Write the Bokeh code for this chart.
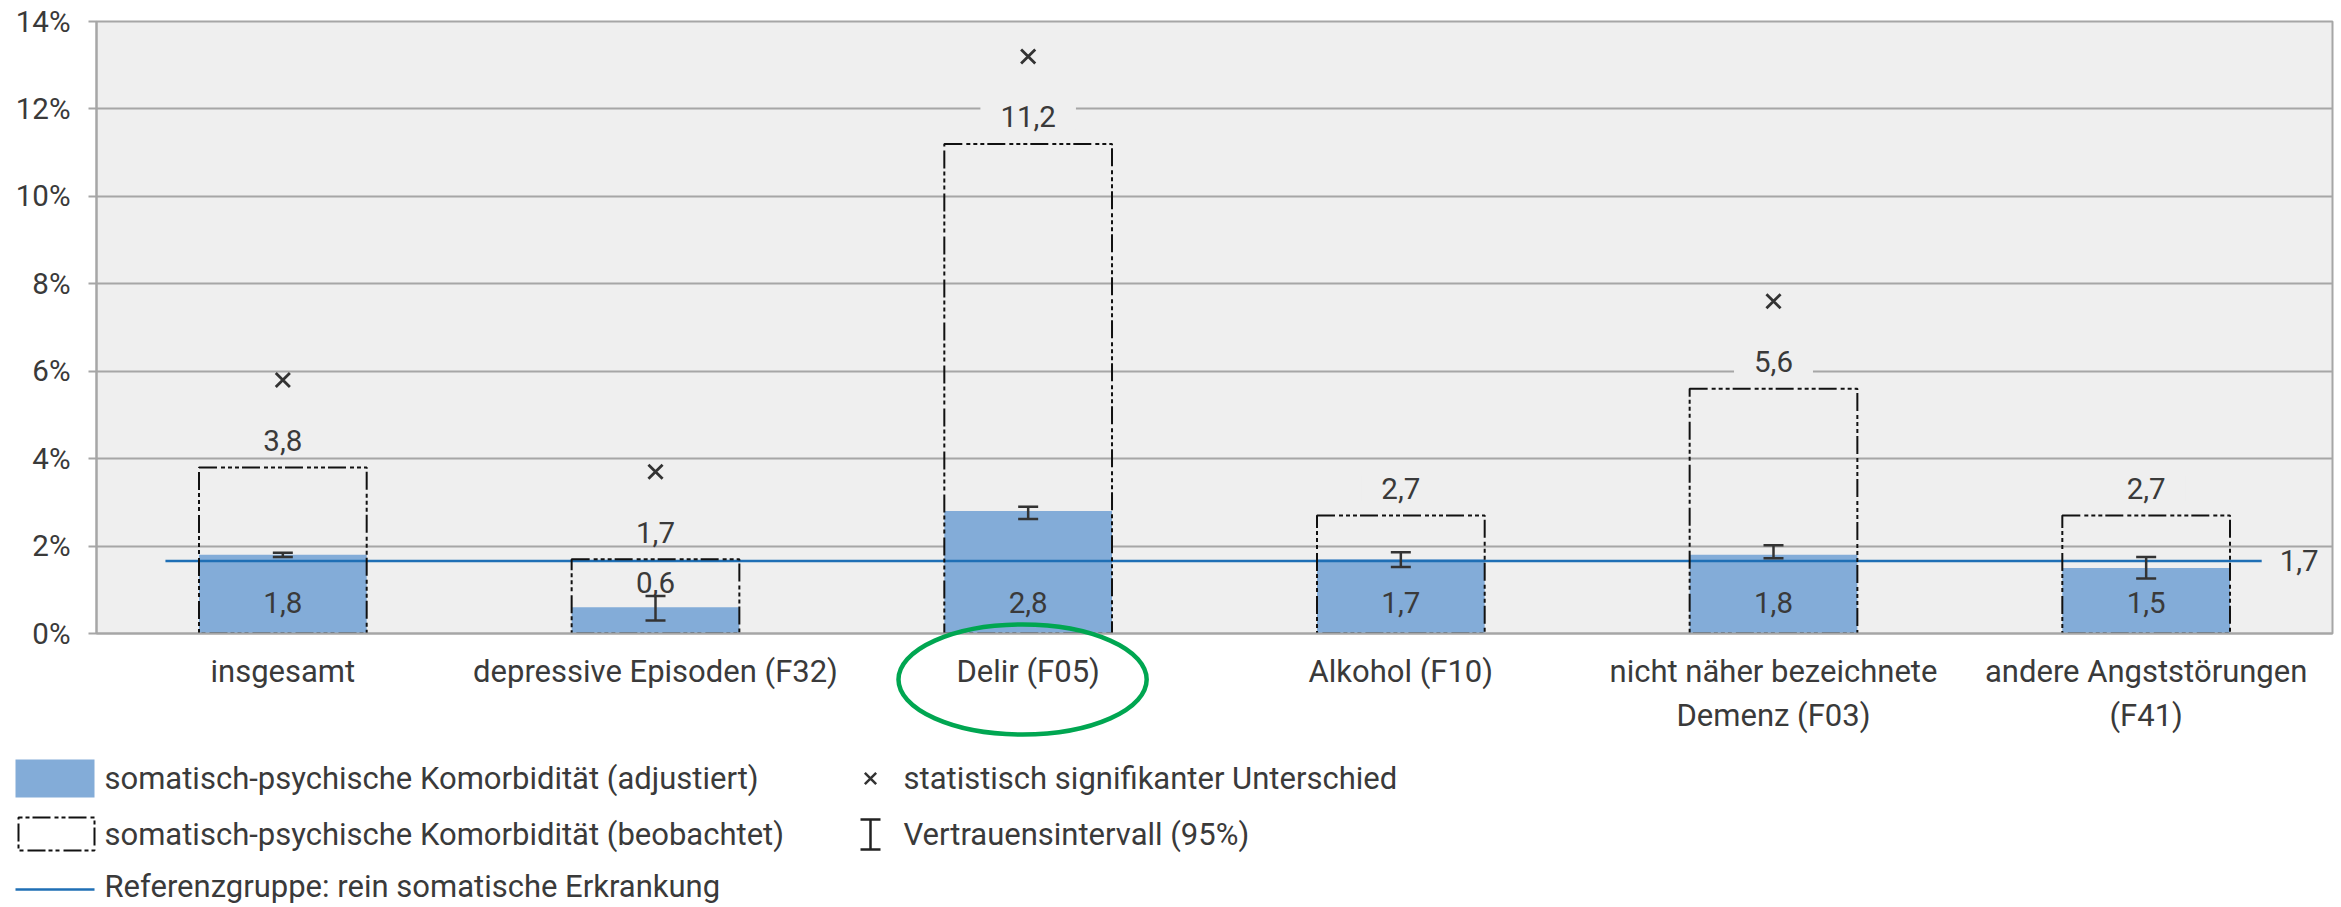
import numpy as np
from bokeh.plotting import figure
from bokeh.models import (Range1d, FixedTicker, PrintfTickFormatter, CustomJSTickFormatter,
                          Whisker, TeeHead, ColumnDataSource, GridBox)
from bokeh.embed import file_html
from bokeh.resources import INLINE
from bokeh.core.properties import value

# ---------------- data ----------------
categories = [
    "insgesamt",
    "depressive Episoden (F32)",
    "Delir (F05)",
    "Alkohol (F10)",
    "nicht näher bezeichnete\nDemenz (F03)",
    "andere Angststörungen\n(F41)",
]
adjusted = [1.8, 0.6, 2.8, 1.7, 1.8, 1.5]          # somatisch-psychische Komorbidität (adjustiert)
observed = [3.8, 1.7, 11.2, 2.7, 5.6, 2.7]         # somatisch-psychische Komorbidität (beobachtet)
ci_low = [1.75, 0.30, 2.62, 1.52, 1.72, 1.26]      # Vertrauensintervall (95%) unten
ci_high = [1.85, 0.86, 2.90, 1.86, 2.02, 1.75]     # Vertrauensintervall (95%) oben
significant = [True, True, True, False, True, False]
reference = 1.66                                    # Referenzgruppe: rein somatische Erkrankung
highlight = "Delir (F05)"
y_ticks = [0, 2, 4, 6, 8, 10, 12, 14]

legend_labels = [
    "somatisch-psychische Komorbidität (adjustiert)",
    "somatisch-psychische Komorbidität (beobachtet)",
    "Referenzgruppe: rein somatische Erkrankung",
    "statistisch signifikanter Unterschied",
    "Vertrauensintervall (95%)",
]

# ---------------- style / layout ----------------
FONT = "Roboto"
FS = "31px"
FS_NUM = "29.5px"
TXT = "#3a3a3a"
BAR = "#83acd8"
REF = "#1f6fb5"
GRID = "#a6a6a6"
BG = "#efefef"
DASH = "18 4 4 3 4 3 4 3"
WIDTH, HEIGHT = 2341, 907
F_LEFT, F_RIGHT, F_TOP, F_BOTTOM = 96, 2332, 21, 633


def de(v):
    return f"{v:.1f}".replace(".", ",")


n = len(categories)
x = np.arange(n) + 0.5
W = 0.45

src = ColumnDataSource(dict(
    x=x,
    left=x - W / 2,
    right=x + W / 2,
    adjusted=adjusted,
    observed=observed,
    ci_low=ci_low,
    ci_high=ci_high,
    obs_lbl=[de(v) for v in observed],
    adj_lbl=[de(v) for v in adjusted],
    adj_y=[v + 0.57 if v < 1 else 0.71 for v in adjusted],
))

p = figure(width=WIDTH, height=HEIGHT, x_range=Range1d(0, n), y_range=Range1d(0, 14),
           output_backend="svg", toolbar_location=None, frame_align=False,
           min_border_left=F_LEFT, min_border_right=WIDTH - F_RIGHT,
           min_border_top=F_TOP, min_border_bottom=HEIGHT - F_BOTTOM,
           background_fill_color=BG, border_fill_color="white",
           outline_line_color=GRID, outline_line_width=2)

# y axis
p.yaxis.ticker = FixedTicker(ticks=y_ticks)
p.yaxis.formatter = PrintfTickFormatter(format="%d%%")
p.yaxis.major_tick_out = 8
p.yaxis.major_tick_in = 0
p.yaxis.minor_tick_out = 0
p.yaxis.minor_tick_in = 0
p.yaxis.major_tick_line_color = GRID
p.yaxis.major_tick_line_width = 2
p.yaxis.axis_line_color = GRID
p.yaxis.axis_line_width = 2
p.yaxis.major_label_standoff = 18
p.yaxis.major_label_text_font = FONT
p.yaxis.major_label_text_font_size = FS_NUM
p.yaxis.major_label_text_color = TXT

# x axis
p.xaxis.ticker = FixedTicker(ticks=list(x))
p.xaxis.formatter = CustomJSTickFormatter(args=dict(names=categories),
                                          code="return names[Math.floor(tick)]")
p.xaxis.major_tick_out = 0
p.xaxis.major_tick_in = 0
p.xaxis.minor_tick_out = 0
p.xaxis.minor_tick_in = 0
p.xaxis.axis_line_color = GRID
p.xaxis.axis_line_width = 2
p.xaxis.major_label_standoff = 19
p.xaxis.major_label_text_font = FONT
p.xaxis.major_label_text_font_size = FS
p.xaxis.major_label_text_color = TXT

p.ygrid.ticker = FixedTicker(ticks=y_ticks)
p.ygrid.grid_line_color = GRID
p.ygrid.grid_line_width = 2
p.xgrid.grid_line_color = None

# adjusted bars
p.vbar(x="x", top="adjusted", width=W, source=src, fill_color=BAR, line_color=None)

# reference line
x_ref0 = x[0] - W / 2 - 0.09
x_ref1 = x[-1] + W / 2 + 0.085
p.segment(x0=[x_ref0], y0=[reference], x1=[x_ref1], y1=[reference],
          line_color=REF, line_width=2.5)

# observed boxes
p.quad(left="left", right="right", bottom=0, top="observed", source=src,
       fill_color=None, line_color="#111111", line_width=2, line_dash=DASH)

# confidence intervals
wh = Whisker(base="x", lower="ci_low", upper="ci_high", source=src,
             line_color="#333333", line_width=2.5, level="annotation",
             upper_head=TeeHead(size=20, line_color="#333333", line_width=2.5),
             lower_head=TeeHead(size=20, line_color="#333333", line_width=2.5))
p.add_layout(wh)

# significance markers
sig_x = [xi for xi, s in zip(x, significant) if s]
sig_y = [o + 2.0 for o, s in zip(observed, significant) if s]
p.scatter(sig_x, sig_y, marker="x", size=20, line_color="#333333", line_width=2.8)

# labels
p.text(x="x", y="observed", text="obs_lbl", source=src, y_offset=-27,
       text_align="center", text_baseline="middle",
       text_font=value(FONT), text_font_size=FS_NUM, text_color=TXT,
       background_fill_color=BG, padding=dict(left=20, right=20, top=2, bottom=2))
p.text(x="x", y="adj_y", text="adj_lbl", source=src,
       text_align="center", text_baseline="middle",
       text_font=value(FONT), text_font_size=FS_NUM, text_color=TXT)
p.text(x=[x_ref1], y=[reference], text=[de(reference)], x_offset=12,
       text_align="left", text_baseline="middle",
       text_font=value(FONT), text_font_size=FS_NUM, text_color=TXT,
       background_fill_color=BG, padding=dict(left=6, right=6, top=2, bottom=2))

# ---------------- overlay: legend + highlight ellipse ----------------
cat_w = (F_RIGHT - F_LEFT) / n
ov = figure(width=WIDTH, height=HEIGHT, x_range=Range1d(0, WIDTH), y_range=Range1d(HEIGHT, 0),
            extra_x_ranges={"cat": Range1d(-F_LEFT / cat_w, n + (WIDTH - F_RIGHT) / cat_w)},
            output_backend="svg", toolbar_location=None, x_axis_type=None, y_axis_type=None,
            frame_align=False, min_border=0, outline_line_color=None,
            background_fill_color=None, border_fill_color=None)
ov.grid.visible = False

# ellipse around the highlighted category label
hx = x[categories.index(highlight)] - 0.015
ov.ellipse(x=[hx], y=[679], width=[0.666], height=[110], x_range_name="cat",
           fill_color=None, line_color="#00a651", line_width=4.5)

row_y = [778, 834, 886]
ov.quad(left=[15], right=[94], top=[row_y[0] - 19], bottom=[row_y[0] + 19],
        fill_color=BAR, line_color=None)
ov.quad(left=[18], right=[94], top=[row_y[1] - 17], bottom=[row_y[1] + 16],
        fill_color=None, line_color="#111111", line_width=2, line_dash="4 3 4 3 18 4")
ov.segment(x0=[15], y0=[row_y[2] + 3], x1=[94], y1=[row_y[2] + 3], line_color=REF, line_width=2.5)
ov.text(x=[104, 104, 104], y=row_y, text=legend_labels[:3],
        text_align="left", text_baseline="middle",
        text_font=value(FONT), text_font_size=FS, text_color=TXT)
ov.scatter([870], [row_y[0]], marker="x", size=16, line_color="#333333", line_width=2.5)
ov.segment(x0=[870, 860, 860], y0=[row_y[1] - 15, row_y[1] - 15, row_y[1] + 15],
           x1=[870, 880, 880], y1=[row_y[1] + 15, row_y[1] - 15, row_y[1] + 15],
           line_color="#222222", line_width=2.5)
ov.text(x=[903, 903], y=row_y[:2], text=legend_labels[3:],
        text_align="left", text_baseline="middle",
        text_font=value(FONT), text_font_size=FS, text_color=TXT)

layout = GridBox(children=[(p, 0, 0), (ov, 0, 0)])
open("out.html", "w").write(file_html(layout, INLINE))
